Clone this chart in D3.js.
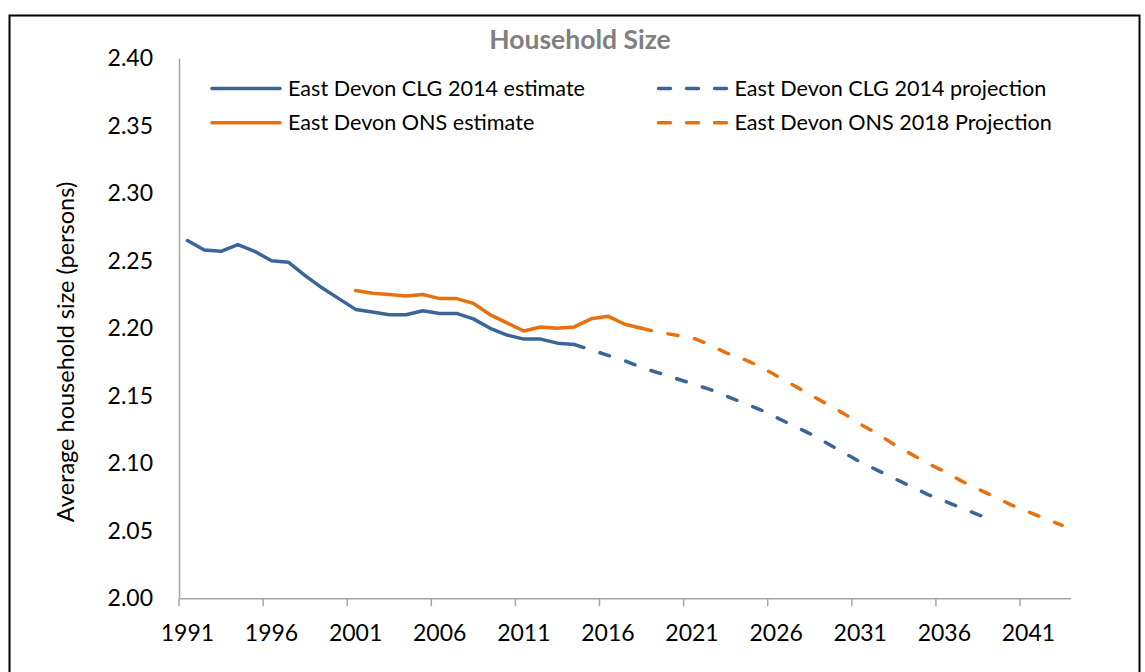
<!DOCTYPE html>
<html>
<head>
<meta charset="utf-8">
<script src="https://cdn.jsdelivr.net/npm/d3@7"></script>
<style>
  body { margin: 0; background: #fff; }
  svg { display: block; font-family: Lato, "Open Sans", sans-serif; }
</style>
</head>
<body>
<svg id="chart"></svg>
<script>
// chart data
const clgEstimateYears = d3.range(1991, 2015);
const clgEstimate = [2.265, 2.258, 2.257, 2.262, 2.257, 2.250, 2.249, 2.239, 2.230, 2.222,
  2.214, 2.212, 2.210, 2.210, 2.213, 2.211, 2.211, 2.207, 2.200, 2.195,
  2.192, 2.192, 2.189, 2.188];

const clgProjectionYears = d3.range(2014, 2040);
const clgProjection = [2.188, 2.184, 2.180, 2.176, 2.171, 2.167, 2.163, 2.159, 2.155, 2.150,
  2.145, 2.140, 2.134, 2.128, 2.122, 2.115, 2.108, 2.101, 2.095, 2.089,
  2.083, 2.077, 2.072, 2.067, 2.062, 2.057];

const onsEstimateYears = d3.range(2001, 2019);
const onsEstimate = [2.228, 2.226, 2.225, 2.224, 2.225, 2.222, 2.222, 2.2185, 2.210, 2.204,
  2.198, 2.201, 2.200, 2.201, 2.207, 2.209, 2.203, 2.200];

const onsProjectionYears = d3.range(2018, 2044);
const onsProjection = [2.200, 2.197, 2.195, 2.193, 2.188, 2.182, 2.1775, 2.172, 2.165, 2.158,
  2.151, 2.144, 2.137, 2.129, 2.122, 2.114, 2.107, 2.100, 2.094, 2.087,
  2.081, 2.075, 2.069, 2.064, 2.059, 2.054];

const categoryYears = d3.range(1991, 2044);
const xTickYears = d3.range(1991, 2042, 5);
const yTicks = [2.00, 2.05, 2.10, 2.15, 2.20, 2.25, 2.30, 2.35, 2.40];

const seriesList = [
  { name: 'East Devon CLG 2014 estimate', years: clgEstimateYears, values: clgEstimate, color: '#3a6599', dashed: false },
  { name: 'East Devon CLG 2014 projection', years: clgProjectionYears, values: clgProjection, color: '#3a6599', dashed: true },
  { name: 'East Devon ONS estimate', years: onsEstimateYears, values: onsEstimate, color: '#e9700f', dashed: false },
  { name: 'East Devon ONS 2018 Projection', years: onsProjectionYears, values: onsProjection, color: '#e9700f', dashed: true }
];

const width = 1145;
const height = 672;
const plot = { left: 179, right: 1070.5, top: 58.3, bottom: 598.3 };
const dashPattern = '10,17';
const axisColor = '#a6a6a6';

const svg = d3.select('#chart')
  .attr('width', width)
  .attr('height', height);

// outer chart border
svg.append('rect')
  .attr('x', 9.5)
  .attr('y', 15.5)
  .attr('width', 1130)
  .attr('height', 700)
  .attr('fill', 'none')
  .attr('stroke', '#000')
  .attr('stroke-width', 2);

// category axis: ticks sit between categories, points in the middle
const x = d3.scaleBand()
  .domain(categoryYears)
  .range([plot.left, plot.right])
  .padding(0);
const bw = x.bandwidth();

const y = d3.scaleLinear()
  .domain([2.0, 2.4])
  .range([plot.bottom, plot.top]);

// y axis
const yAxis = svg.append('g')
  .attr('transform', `translate(${plot.left},0)`)
  .call(d3.axisLeft(y).tickValues(yTicks).tickSize(0).tickPadding(26).tickFormat(d3.format('.2f')));
yAxis.select('.domain').attr('stroke', axisColor).attr('stroke-width', 1.5);
yAxis.selectAll('text')
  .attr('font-size', 23)
  .attr('fill', '#000')
  .attr('font-family', 'Lato, "Open Sans", sans-serif');

// x axis (tickSize first, it also resets the outer size)
const xAxis = svg.append('g')
  .attr('transform', `translate(0,${plot.bottom})`)
  .call(d3.axisBottom(x).tickValues(xTickYears).tickSize(8).tickSizeOuter(0).tickPadding(18));
xAxis.select('.domain').attr('stroke', axisColor).attr('stroke-width', 1.5);
xAxis.selectAll('.tick line')
  .attr('x1', -bw / 2)
  .attr('x2', -bw / 2)
  .attr('stroke', axisColor)
  .attr('stroke-width', 1.5);
xAxis.selectAll('text')
  .attr('font-size', 23)
  .attr('fill', '#000')
  .attr('font-family', 'Lato, "Open Sans", sans-serif');

// y axis title
svg.append('text')
  .attr('transform', `translate(74,352) rotate(-90)`)
  .attr('text-anchor', 'middle')
  .attr('font-size', 23.5)
  .text('Average household size (persons)');

// chart title
svg.append('text')
  .attr('x', 580)
  .attr('y', 49)
  .attr('text-anchor', 'middle')
  .attr('font-size', 26.5)
  .attr('font-weight', 'bold')
  .attr('fill', '#808080')
  .text('Household Size');

// series lines
const line = d3.line()
  .x(d => x(d[0]) + bw / 2)
  .y(d => y(d[1]));

seriesList.forEach((s) => {
  svg.append('path')
    .datum(d3.zip(s.years, s.values))
    .attr('d', line)
    .attr('fill', 'none')
    .attr('stroke', s.color)
    .attr('stroke-width', 3.5)
    .attr('stroke-linejoin', 'round')
    .attr('stroke-linecap', 'round')
    .attr('stroke-dasharray', s.dashed ? dashPattern : null);
});

// legend, two columns
const legendSpots = [
  { x: 212, y: 88.5 },
  { x: 658.5, y: 88.5 },
  { x: 212, y: 122.7 },
  { x: 658.5, y: 122.7 }
];
seriesList.forEach((s, i) => {
  const spot = legendSpots[i];
  const g = svg.append('g').attr('transform', `translate(${spot.x},${spot.y})`);
  g.append('line')
    .attr('x1', 0)
    .attr('x2', s.dashed ? 69 : 68)
    .attr('stroke', s.color)
    .attr('stroke-width', 3.5)
    .attr('stroke-linecap', 'round')
    .attr('stroke-dasharray', s.dashed ? '12,16' : null);
  g.append('text')
    .attr('x', 76)
    .attr('dy', '0.36em')
    .attr('font-size', 21.6)
    .text(s.name);
});
</script>
</body>
</html>
